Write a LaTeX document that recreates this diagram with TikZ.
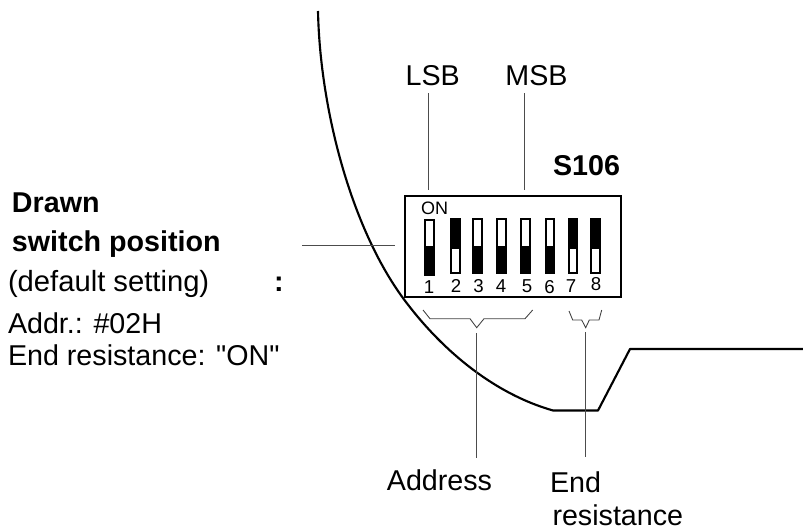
\documentclass[tikz,border=0pt]{standalone}
\usepackage{fontspec}
\setmainfont{Liberation Sans}
\newfontfamily\plainquote{Liberation Sans}
\tikzset{
  x=0.75pt,y=-0.75pt,
  lbl/.style={inner sep=0pt,outer sep=0pt,anchor=base west,font=\fontsize{21.5pt}{24pt}\selectfont},
  blbl/.style={lbl,font=\fontsize{21.5pt}{24pt}\selectfont\bfseries},
  ctr/.style={lbl,anchor=base},
  digit/.style={inner sep=0pt,outer sep=0pt,anchor=base,font=\fontsize{14pt}{16pt}\selectfont},
  leader/.style={draw=black!70,line width=0.7pt},
  heavy/.style={draw=black,line width=1.6pt},
  bracket/.style={draw=black!75,line width=0.65pt,line join=miter},
  swon/.style={draw=black,line width=1.5pt,fill=white},
  swoff/.style={draw=black,line width=1.5pt,fill=black},
}
\begin{document}
\begin{tikzpicture}
\useasboundingbox (0,0) rectangle (803,528);
% housing outline
\draw[heavy,line join=round] (318,11) .. controls (320,110) and (352,232) .. (406.7,303)
  .. controls (444,352) and (495,394) .. (553,410.5) -- (598,410.5) -- (630,349) -- (803,349);
% DIP switch body
\draw[heavy,fill=none] (405,195.7) rectangle (621.3,297);
\coordinate (frameW) at (395,245);
\coordinate (pos) at (302,245);
\draw[leader] (pos) -- (frameW);
% switches
\draw[swon]  (425,220.3) rectangle (433.7,247.3);
\draw[swoff] (425,247.3) rectangle (433.7,274.7);
\foreach \xl/\xr in {473.3/482,497/505.7,521.3/530,545.7/554}{
  \draw[swon]  (\xl,219.3) rectangle (\xr,247.3);
  \draw[swoff] (\xl,247.3) rectangle (\xr,273.3);
}
\foreach \xl/\xr in {451/459.7,568.7/577,591/599.7}{
  \draw[swoff] (\xl,219.3) rectangle (\xr,248.3);
  \draw[swon]  (\xl,248.3) rectangle (\xr,273.3);
}
\node[inner sep=0pt,anchor=base,font=\fontsize{13.5pt}{15pt}\selectfont] (on) at (434.5,214) {ON};
\node[digit] (d1) at (429,293.3) {1};
\node[digit] (d2) at (456,292.3) {2};
\node[digit] (d3) at (478.5,292.3) {3};
\node[digit] (d4) at (501,292.3) {4};
\node[digit] (d5) at (527,292.3) {5};
\node[digit] (d6) at (549.5,293) {6};
\node[digit] (d7) at (571,292.3) {7};
\node[digit] (d8) at (596,290) {8};
% labels
\node[ctr] (lsb) at (432.7,86) {LSB};
\node[ctr] (msb) at (536.5,86) {MSB};
\node[blbl,anchor=base] (s106) at (586.5,175) {S106};
\node[blbl] (drawn) at (12,212.7) {Drawn};
\node[blbl] (swpos) at (12,251.7) {switch position};
\node[lbl,font=\fontsize{21.9pt}{24pt}\selectfont] (def) at (8,291.7) {(default setting)};
\node[blbl] (colon) at (274,291.7) {:};
\node[lbl] (addr) at (8,333) {Addr.: \#02H};
\node[lbl] (endres) at (8,365) {End resistance: {\plainquote "ON"}};
\node[ctr] (address) at (439.5,490.7) {Address};
\node[lbl] (endl) at (550,492.7) {End};
\node[lbl] (resl) at (552.5,525) {resistance};
% leaders
\coordinate (lsbA) at (428.3,93.3);
\coordinate (lsbB) at (428.3,190);
\coordinate (msbA) at (524.7,93.3);
\coordinate (msbB) at (524.7,190);
\draw[leader] (lsbA) -- (lsbB);
\draw[leader] (msbA) -- (msbB);
% brackets
\draw[bracket] (423,310) -- (430,318.7) -- (470,318.7) -- (476.7,327.7) -- (484,318.7) -- (525,318.7) -- (532.7,310);
\draw[bracket] (569,311) -- (572.7,320) -- (581.7,320) -- (585.7,327.7) -- (589.3,320) -- (599,320) -- (601.7,310);
\coordinate (adrA) at (476.7,333);
\coordinate (adrB) at (476.7,458);
\coordinate (endA) at (585.7,332);
\coordinate (endB) at (585.7,457);
\draw[leader] (adrA) -- (adrB);
\draw[leader] (endA) -- (endB);
\end{tikzpicture}
\end{document}
